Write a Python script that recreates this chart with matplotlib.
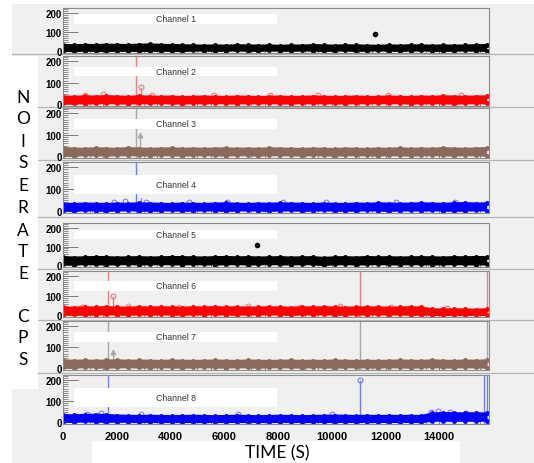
import numpy as np
import matplotlib.pyplot as plt
from matplotlib.patches import Rectangle
from matplotlib.lines import Line2D
from matplotlib.ticker import MultipleLocator

W, H = 534, 464

# sampling times of the noise band (s)
TIME = np.linspace(0, 15760, 40)

CHANNELS = ["Channel 1", "Channel 2", "Channel 3", "Channel 4",
            "Channel 5", "Channel 6", "Channel 7", "Channel 8"]
COLORS = ["black", "#ff0000", "#8c695a", "#0000ff",
          "black", "#ff0000", "#8c695a", "#0000ff"]

# upper / lower edge of the noise band (cps), read every ~400 s
UPPER = [
    [33, 32, 34, 33, 35, 34, 33, 35, 36, 34, 33, 32, 31, 30, 31, 30, 32, 31, 30, 31,
     29, 31, 30, 33, 31, 30, 32, 31, 30, 29, 31, 30, 32, 31, 30, 31, 30, 31, 32, 33],
    [36, 35, 37, 36, 38, 36, 35, 37, 36, 35, 36, 34, 35, 36, 35, 34, 36, 35, 34, 35,
     36, 34, 35, 36, 35, 34, 35, 36, 34, 35, 36, 35, 34, 36, 35, 37, 36, 35, 36, 37],
    [38, 36, 35, 37, 36, 35, 38, 36, 35, 36, 37, 35, 36, 35, 36, 37, 35, 36, 35, 37,
     36, 35, 34, 36, 35, 34, 36, 35, 34, 36, 35, 37, 35, 36, 35, 38, 36, 35, 36, 38],
    [34, 33, 35, 34, 33, 35, 34, 36, 35, 34, 33, 35, 34, 33, 35, 36, 34, 33, 35, 34,
     36, 35, 34, 33, 35, 34, 33, 35, 34, 36, 35, 34, 35, 36, 35, 34, 36, 37, 35, 36],
    [44, 42, 43, 45, 44, 42, 43, 44, 42, 43, 45, 44, 43, 42, 44, 45, 43, 44, 42, 43,
     44, 42, 43, 44, 40, 43, 44, 42, 45, 43, 44, 42, 43, 44, 43, 42, 44, 43, 45, 44],
    [40, 39, 41, 40, 42, 40, 39, 41, 40, 41, 40, 39, 41, 40, 42, 40, 41, 39, 40, 41,
     40, 39, 41, 40, 41, 40, 39, 40, 41, 40, 39, 40, 41, 40, 31, 30, 31, 30, 29, 31],
    [38, 36, 37, 36, 37, 38, 36, 37, 36, 35, 37, 36, 35, 36, 37, 36, 35, 37, 36, 35,
     36, 37, 35, 36, 35, 37, 36, 35, 36, 35, 36, 37, 36, 35, 38, 36, 35, 37, 36, 38],
    [34, 33, 35, 36, 35, 32, 31, 30, 31, 30, 29, 30, 31, 30, 29, 30, 31, 30, 29, 30,
     31, 30, 29, 30, 31, 32, 31, 30, 31, 30, 31, 30, 31, 30, 42, 44, 43, 42, 43, 42],
]
LOWER = [
    [3, 2, 4, 3, 2, 3, 4, 2, 3, 4, 3, 2, 5, 4, 3, 4, 5, 4, 3, 5,
     4, 3, 5, 4, 3, 4, 5, 3, 4, 5, 4, 3, 4, 5, 4, 3, 4, 5, 4, 3],
    [4, 5, 3, 4, 5, 4, 3, 5, 4, 5, 4, 3, 5, 4, 5, 4, 3, 5, 4, 5,
     4, 3, 5, 4, 5, 4, 3, 5, 4, 5, 4, 5, 3, 4, 5, 4, 3, 4, 5, 4],
    [4, 3, 5, 4, 3, 4, 5, 4, 3, 5, 4, 3, 4, 5, 4, 3, 5, 4, 3, 4,
     5, 4, 3, 5, 4, 3, 4, 5, 4, 3, 5, 4, 3, 4, 5, 4, 3, 5, 4, 3],
    [3, 2, 4, 3, 2, 3, 4, 3, 2, 3, 4, 2, 3, 4, 3, 2, 3, 4, 3, 2,
     3, 4, 2, 3, 4, 3, 2, 3, 4, 3, 2, 3, 4, 3, 4, 3, 2, 3, 4, 3],
    [6, 5, 7, 6, 5, 6, 7, 5, 6, 7, 6, 5, 7, 6, 5, 6, 7, 5, 6, 7,
     6, 5, 7, 6, 3, 6, 7, 5, 6, 7, 6, 5, 7, 6, 5, 6, 7, 6, 5, 6],
    [4, 5, 3, 4, 5, 4, 3, 5, 4, 5, 4, 3, 5, 4, 5, 4, 3, 5, 4, 5,
     4, 3, 5, 4, 5, 4, 3, 5, 4, 5, 4, 5, 3, 4, 3, 2, 3, 2, 3, 2],
    [4, 3, 5, 4, 3, 4, 5, 4, 3, 5, 4, 3, 4, 5, 4, 3, 5, 4, 3, 4,
     5, 4, 3, 5, 4, 3, 4, 5, 4, 3, 5, 4, 3, 4, 5, 4, 3, 5, 4, 3],
    [3, 2, 4, 3, 2, 3, 2, 1, 2, 1, 2, 1, 2, 1, 2, 1, 2, 1, 2, 1,
     2, 1, 2, 1, 2, 1, 2, 1, 2, 1, 2, 1, 2, 1, 7, 8, 7, 8, 7, 8],
]

# open circles sitting just above the band
OPEN_T = [
    [],
    [800, 1500, 3300, 5600, 7700, 9500, 12100, 14800],
    [],
    [1900, 2300, 3100, 4700, 6100, 8200, 9800, 12400, 14600],
    [],
    [700, 2400, 4300, 6900, 8800, 10300, 12200, 14300],
    [],
    [900, 1400, 2900, 6500, 10000, 13700, 13950, 14400, 15000],
]
OPEN_V = [
    [],
    [42, 46, 41, 43, 42, 44, 43, 41],
    [],
    [42, 45, 44, 41, 43, 40, 42, 41, 43],
    [],
    [44, 45, 43, 46, 44, 45, 43, 38],
    [],
    [40, 44, 38, 37, 40, 50, 54, 50, 46],
]

# isolated readings well above the band
SPIKE_T = [[11610], [2900], [2850], [2900], [7220], [1850], [1850], [11050]]
SPIKE_V = [[88], [78], [100], [62], [110], [100], [75], [200]]
SPIKE_M = ["o", "o", "^", "", "o", "o", "^", "o"]

# full-height vertical lines (s)
VLINE_T = [[], [2720], [2720], [2720], [], [1690, 11050, 15770],
           [1690, 11050, 15770], [1690, 15650, 15780]]
VLINE_C = ["", "#e88080", "#a8a8a8", "#7080e8", "", "#e88080", "#a8a8a8", "#7080e8"]

LETTERS = list("NOISERATE") + list("CPS")
LETTER_Y = [98, 119, 142, 163, 186, 208, 231, 252, 274, 317, 338, 360]

PANEL_PX = [(9, 54), (57, 107), (109, 159), (163, 214),
            (224, 268), (272, 318), (322, 371), (376, 425)]
SEP_PX = [55, 108, 161, 218, 269.5, 320.5, 374]
BOX_PX = [(15, 25), (68, 77), (120, 130), (176, 195),
          (231, 240), (282, 292), (333, 343), (389, 408)]
LEFT, RIGHT = 63, 489
BG = "#f0f0f0"


def fx(px):
    return px / W


def fy(py):
    return 1 - py / H


def main():
    fig = plt.figure(figsize=(W / 100, H / 100), dpi=100, facecolor=BG)

    # white margins and text boxes of the composite
    for x0, y0, x1, y1 in [(0, 0, W, 5), (0, 0, 12, H), (0, 57, 38, 390), (92, 442, 460, H)]:
        fig.add_artist(Rectangle((fx(x0), fy(y1)), fx(x1) - fx(x0), (y1 - y0) / H,
                                 transform=fig.transFigure, facecolor="white",
                                 edgecolor="none", zorder=-0.5))
    for y in SEP_PX:
        fig.add_artist(Line2D([fx(12), 1], [fy(y), fy(y)], transform=fig.transFigure,
                              color="#b4b4b4", lw=0.9, zorder=-1))

    for i in range(8):
        top, bot = PANEL_PX[i]
        ax = fig.add_axes([fx(LEFT), fy(bot), fx(RIGHT) - fx(LEFT), (bot - top) / H])
        ax.set_facecolor(BG)
        c = COLORS[i]

        for t in VLINE_T[i]:
            ax.axvline(t, color=VLINE_C[i], lw=1.0, zorder=1.5)

        ax.fill_between(TIME, LOWER[i], UPPER[i], color=c, lw=0, zorder=2)
        ax.plot(TIME, UPPER[i], color=c, lw=1.5, marker="o", ms=2.5, zorder=2)
        ax.plot(TIME, LOWER[i], color=c, lw=1.5, marker="o", ms=2.5, zorder=2)
        if OPEN_T[i]:
            ax.plot(OPEN_T[i], OPEN_V[i], ls="none", marker="o", ms=3.5, mfc="none",
                    mec=c, mew=0.6, alpha=0.6, zorder=2)

        for t, v in zip(SPIKE_T[i], SPIKE_V[i]):
            if c == "black":
                ax.plot([t], [v], "o", color=c, ms=3, zorder=3)
            else:
                ax.vlines(t, 30, v, color=VLINE_C[i], lw=1.0, zorder=1.8)
                if SPIKE_M[i]:
                    ax.plot([t], [v], marker=SPIKE_M[i], ms=3.5,
                            mfc="none" if SPIKE_M[i] == "o" else VLINE_C[i],
                            mec=VLINE_C[i], mew=0.8, ls="none", zorder=3)

        ax.set_xlim(0, 15850)
        ax.set_ylim(-8, 224)
        ax.set_yticks([0, 100, 200])
        ax.yaxis.set_minor_locator(MultipleLocator(10))
        ax.xaxis.set_major_locator(MultipleLocator(2000))
        ax.xaxis.set_minor_locator(MultipleLocator(500))
        ax.tick_params(axis="y", which="major", direction="in", length=10.5, width=0.6,
                       color="#666666", pad=1, labelsize=7)
        ax.tick_params(axis="y", which="minor", direction="in", length=3.5, width=0.5,
                       color="#666666")
        ax.tick_params(axis="x", which="major", direction="in", length=3.5, width=0.6,
                       color="#666666", pad=5, labelsize=8, labelbottom=(i == 7))
        ax.tick_params(axis="x", which="minor", direction="in", length=2.2, width=0.5,
                       color="#666666")
        for lab in ax.get_xticklabels() + ax.get_yticklabels():
            lab.set_family("Liberation Sans")
            lab.set_fontweight("bold")
        for sp in ax.spines.values():
            sp.set_color("#8c8c8c")
            sp.set_linewidth(0.8)

        # channel title box
        b0, b1 = BOX_PX[i]
        ax.add_patch(Rectangle((fx(74), fy(b1)), fx(277) - fx(74), (b1 - b0) / H,
                               transform=fig.transFigure, facecolor="white",
                               edgecolor="none", zorder=4))
        ax.text(fx(176), fy((b0 + b1) / 2), CHANNELS[i], transform=fig.transFigure,
                ha="center", va="center", fontsize=6.3, color="#333333",
                family="Liberation Sans", zorder=5)

    for ch, y in zip(LETTERS, LETTER_Y):
        fig.text(fx(23), fy(y), ch, ha="center", va="center", fontsize=12.5, family="Lato")
    fig.text(fx(277), fy(453), "TIME (S)", ha="center", va="center", fontsize=12.5, family="Lato")

    fig.savefig("out.png", dpi=100, facecolor=BG)


if __name__ == "__main__":
    main()
